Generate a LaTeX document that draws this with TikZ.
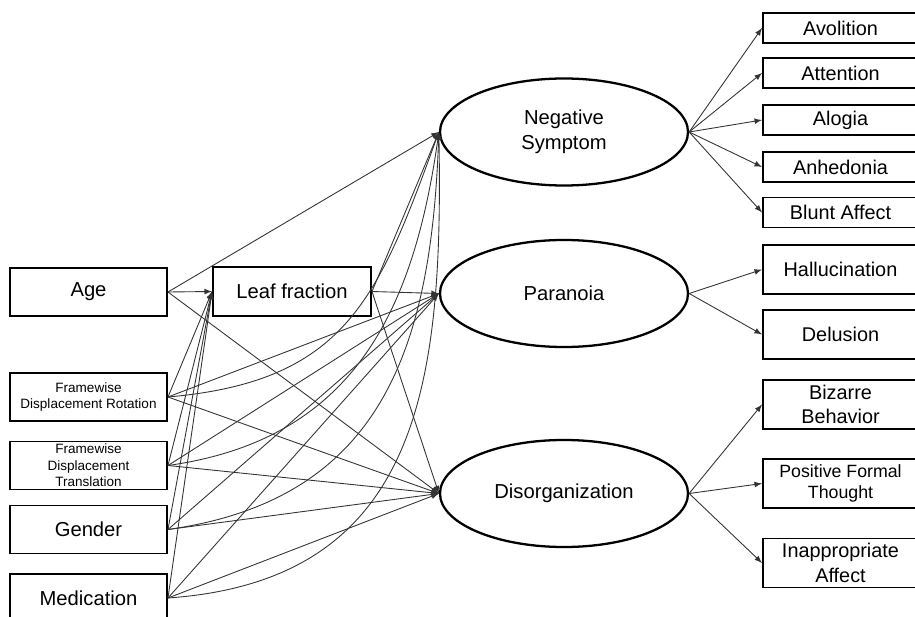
\documentclass[tikz,border=0pt]{standalone}
\usepackage{fontspec}
\setmainfont{Liberation Sans}
\usetikzlibrary{shapes.geometric}

\begin{document}
\begin{tikzpicture}[
  var/.style={rectangle, draw=black, line width=1.1pt, fill=white, minimum width=3.14cm, minimum height=0.96cm, inner sep=1pt, align=center, font=\fontsize{11.5}{14}\selectfont},
  cov/.style={var, font=\fontsize{7.7}{9.3}\selectfont},
  ind/.style={var, minimum width=3.1cm, minimum height=0.98cm, font=\fontsize{11.3}{14}\selectfont},
  sind/.style={ind, minimum height=0.6cm},
  pft/.style={ind, font=\fontsize{10.1}{12.3}\selectfont},
  lat/.style={ellipse, draw=black, line width=1.3pt, fill=white, minimum width=4.96cm, minimum height=2.14cm, inner sep=0pt, align=center, font=\fontsize{11.5}{14}\selectfont},
  path/.style={-latex, black!80, line width=0.5pt}]
  \useasboundingbox (0,0) rectangle (18.3,12.32);
  \clip (0,0) rectangle (18.3,12.32);
  % predictors
  \node[var] (age) at (1.77,6.48) {Age};
  \node[cov] (fdr) at (1.77,4.38) {Framewise\\Displacement Rotation};
  \node[cov] (fdt) at (1.77,3.01) {Framewise\\Displacement\\Translation};
  \node[var] (gen) at (1.77,1.73) {Gender};
  \node[var] (med) at (1.77,0.36) {Medication};
  \node[var, minimum width=3.16cm, minimum height=0.98cm] (leaf) at (5.84,6.49) {Leaf fraction};
  % latent factors
  \node[lat] (neg) at (11.28,9.68) {Negative\\Symptom};
  \node[lat] (par) at (11.28,6.45) {Paranoia};
  \node[lat] (dis) at (11.28,2.45) {Disorganization};
  % indicators
  \node[sind] (avo) at (16.81,11.76) {Avolition};
  \node[sind] (att) at (16.81,10.86) {Attention};
  \node[sind] (alo) at (16.81,9.92) {Alogia};
  \node[sind] (anh) at (16.81,8.98) {Anhedonia};
  \node[sind] (blu) at (16.81,8.07) {Blunt Affect};
  \node[ind] (hal) at (16.81,6.93) {Hallucination};
  \node[ind] (del) at (16.81,5.63) {Delusion};
  \node[ind] (biz) at (16.81,4.23) {Bizarre\\Behavior};
  \node[pft] (pos) at (16.81,2.65) {Positive Formal\\Thought};
  \node[ind] (ina) at (16.81,1.06) {Inappropriate\\Affect};
  % straight paths
  \foreach \a/\b in {age/leaf, age/neg, age/dis,
                     leaf/neg, leaf/par, leaf/dis,
                     fdr/leaf, fdr/par, fdr/dis,
                     fdt/leaf, fdt/par, fdt/dis,
                     gen/leaf, gen/par, gen/dis,
                     med/leaf, med/par, med/dis}
    \draw[path] (\a.east) -- (\b.west);
  % curved paths to negative symptom
  \draw[path] (fdr.east) to[out=5, in=-110, looseness=1.2] (neg.west);
  \draw[path] (fdt.east) to[out=8, in=-98, looseness=1.1] (neg.west);
  \draw[path] (gen.east) to[out=8, in=-92, looseness=1.15] (neg.west);
  \draw[path] (med.east) to[out=4, in=-89, looseness=1.2] (neg.west);
  % loadings
  \foreach \b in {avo, att, alo, anh, blu}
    \draw[path] (neg.east) -- (\b.west);
  \foreach \b in {hal, del}
    \draw[path] (par.east) -- (\b.west);
  \foreach \b in {biz, pos, ina}
    \draw[path] (dis.east) -- (\b.west);
\end{tikzpicture}
\end{document}
